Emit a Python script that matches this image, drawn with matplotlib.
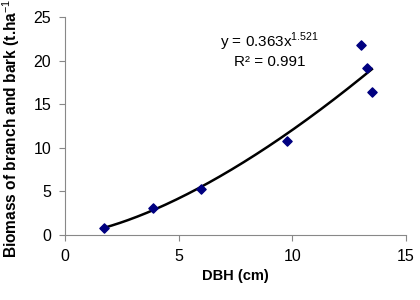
import numpy as np
import matplotlib
matplotlib.use("Agg")
import matplotlib.pyplot as plt

# DBH (cm) and biomass of branch and bark (t/ha)
dbh = [1.7, 3.85, 6.0, 9.75, 13.0, 13.3, 13.5]
biomass = [0.75, 3.05, 5.25, 10.8, 21.8, 19.1, 16.4]

# power trend line y = a * x^b
a, b = 0.363, 1.521

plt.rcParams["font.family"] = ["Liberation Sans", "DejaVu Sans"]
plt.rcParams["mathtext.fontset"] = "custom"
plt.rcParams["mathtext.rm"] = "Liberation Sans"

fig = plt.figure(figsize=(4.2, 3.0), dpi=100)
ax = fig.add_axes([65 / 420, 1 - 235 / 300, 341 / 420, 218 / 300])

xs = np.linspace(min(dbh), max(dbh), 200)
ax.plot(xs, a * xs ** b, color="black", lw=1.8, zorder=2)
ax.scatter(dbh, biomass, marker="D", s=22, color="#000080", zorder=3)

ax.set_xlim(0, 15)
ax.set_ylim(0, 25)
ax.set_xticks([0, 5, 10, 15])
ax.set_yticks([0, 5, 10, 15, 20, 25])
for s in ["top", "right"]:
    ax.spines[s].set_visible(False)
for s in ["left", "bottom"]:
    ax.spines[s].set_color("#888888")
    ax.spines[s].set_linewidth(0.8)
ax.tick_params(direction="out", length=4, color="#888888", labelsize=11.5, pad=6)

ax.set_xlabel("DBH (cm)", fontsize=10.5, fontweight="bold", labelpad=4)
fig.text(11 / 420, 1 - 258 / 300, "Biomass of branch and bark (t.ha$^{-1}$)",
         rotation=90, ha="center", va="bottom", fontsize=11.2, fontweight="bold")

ax.text(9.0, 22.1, "y = 0.363x$^{\\mathrm{1.521}}$", ha="center", va="center", fontsize=11)
ax.text(9.0, 19.8, "R² = 0.991", ha="center", va="center", fontsize=11)

fig.savefig("out.png", dpi=100)
